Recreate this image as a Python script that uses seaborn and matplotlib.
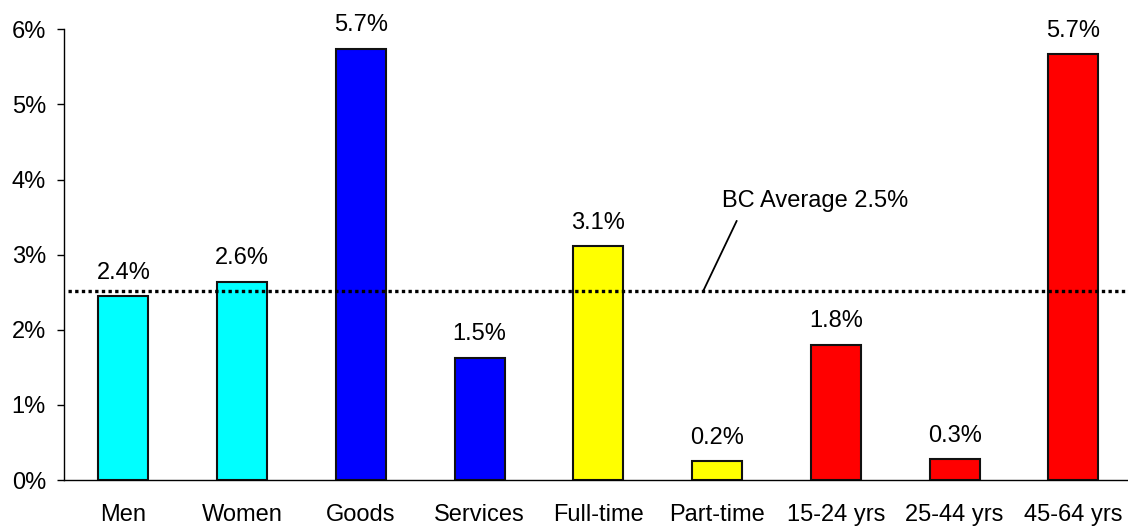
import matplotlib
matplotlib.use("Agg")
import matplotlib.pyplot as plt
import seaborn as sns
import pandas as pd
from matplotlib.ticker import FuncFormatter

categories = ["Men", "Women", "Goods", "Services", "Full-time", "Part-time",
              "15-24 yrs", "25-44 yrs", "45-64 yrs"]
values = [2.45, 2.64, 5.74, 1.63, 3.11, 0.25, 1.80, 0.275, 5.67]
value_labels = ["2.4%", "2.6%", "5.7%", "1.5%", "3.1%", "0.2%", "1.8%", "0.3%", "5.7%"]
bar_colors = ["#00FFFF", "#00FFFF", "#0000FF", "#0000FF", "#FFFF00", "#FFFF00",
              "#FF0000", "#FF0000", "#FF0000"]
bc_average = 2.52
bc_label = "BC Average 2.5%"
y_ticks = [0, 1, 2, 3, 4, 5, 6]

sns.set_style("white")
plt.rcParams['font.family'] = ['Liberation Sans', 'DejaVu Sans']
plt.rcParams['text.color'] = 'black'

df = pd.DataFrame({"category": categories, "value": values})

fig = plt.figure(figsize=(11.28, 5.29), dpi=100)
ax = fig.add_axes([64 / 1128, 0.0926, 9 * 118.75 / 1128, 0.852])

sns.barplot(data=df, x="category", y="value", hue="category",
            palette=dict(zip(categories, bar_colors)), legend=False,
            width=0.42, saturation=1, edgecolor="#111111", linewidth=1.5, ax=ax)

FS = 17
for i, (v, lab) in enumerate(zip(values, value_labels)):
    ax.annotate(lab, (i, v), xytext=(0, 12.5), textcoords="offset points",
                ha="center", va="baseline", fontsize=FS, color="black")

ax.hlines(bc_average, -0.465, 8.5, colors="black", linewidth=2.4,
          linestyles=(0, (1, 1)), zorder=3)
ax.plot([4.884, 5.165], [bc_average, 3.45], color="black", linewidth=1.3, zorder=3)
ax.text(5.824, 3.635, bc_label, ha="center", va="baseline", fontsize=FS, color="black")

ax.set_xlim(-0.5, 8.5)
ax.set_ylim(0, 6)
ax.set_yticks(y_ticks)
ax.yaxis.set_major_formatter(FuncFormatter(lambda y, _: f"{y:.0f}%"))
ax.set_xlabel("")
ax.set_ylabel("")

for s in ["top", "right"]:
    ax.spines[s].set_visible(False)
for s in ["left", "bottom"]:
    ax.spines[s].set_color("black")
    ax.spines[s].set_linewidth(1.0)

ax.tick_params(axis="y", which="major", left=True, length=5, width=1.0,
               color="black", pad=8, labelsize=FS, labelcolor="black", direction="out")
ax.tick_params(axis="x", which="major", bottom=False, pad=14, labelsize=FS,
               labelcolor="black")
ax.grid(False)

fig.savefig("out.png", dpi=100)
